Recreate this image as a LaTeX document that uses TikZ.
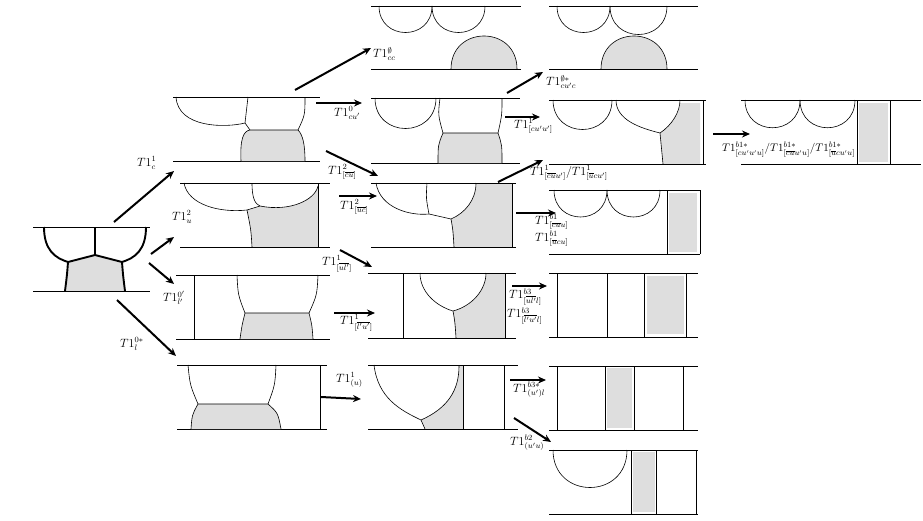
\documentclass[tikz,border=0pt]{standalone}
\usetikzlibrary{arrows.meta}
\begin{document}
\begin{tikzpicture}[x=1pt,y=-1pt,
  ln/.style={line width=0.6pt},
  thk/.style={line width=1.9pt},
  gr/.style={fill=black!13},
  arr/.style={line width=2pt,-{Stealth[length=8pt,width=7pt]}},
  lab/.style={font=\fontsize{11.5}{13}\selectfont,inner sep=0pt,anchor=west}]
\useasboundingbox (0,0) rectangle (923,520);
\newcommand{\cupd}[3]{\draw[ln] (#1,#3) .. controls (#1,{#3+0.667*(#2-#1)}) and (#2,{#3+0.667*(#2-#1)}) .. (#2,#3);}
\newcommand{\capu}[3]{\fill[gr] (#1,#3) .. controls (#1,{#3-0.667*(#2-#1)}) and (#2,{#3-0.667*(#2-#1)}) .. (#2,#3) -- cycle;
 \draw[ln] (#1,#3) .. controls (#1,{#3-0.667*(#2-#1)}) and (#2,{#3-0.667*(#2-#1)}) .. (#2,#3);}
\newcommand{\hl}[3]{\draw[ln] (#1,#3) -- (#2,#3);}
\newcommand{\vl}[3]{\draw[ln] (#1,#2) -- (#1,#3);}
\newcommand{\gbox}[4]{\fill[gr] (#1,#3) rectangle (#2,#4);}

% P0
\fill[gr] (65,291) .. controls (67,275) .. (68,262) .. controls (82,258) .. (95,255) .. controls (108,258) .. (122,262) .. controls (123,275) .. (125,291) -- cycle;
\hl{33}{150}{227} \hl{33}{150}{291}
\draw[thk] (44,227) .. controls (44,250) and (55,258) .. (68,262) .. controls (82,258) .. (95,255) .. controls (108,258) .. (122,262) .. controls (135,258) and (146,250) .. (146,227);
\draw[thk] (95,227) -- (95,255);
\draw[thk] (68,262) .. controls (67,275) .. (65,291);
\draw[thk] (122,262) .. controls (123,275) .. (125,291);

% P1
\hl{173}{320}{97} \hl{173}{320}{161}
\draw[gr,ln] (241,161) .. controls (240,140) and (243,131) .. (250,130) -- (298,130) .. controls (303,135) and (305,145) .. (305,161);
\draw[ln] (176,97) .. controls (178,128) and (225,128) .. (245,123) .. controls (247,126) .. (250,130);
\draw[ln] (248,97) .. controls (246,110) .. (245,123);
\draw[ln] (305,97) .. controls (305,115) .. (298,130);

% P2
\fill[gr] (247,210) -- (260,206) .. controls (290,212) and (315,200) .. (318,186) -- (318,247) -- (252,247) .. controls (251,230) .. (247,210) -- cycle;
\hl{180}{330}{183} \hl{180}{330}{247} \vl{318}{183}{247}
\draw[ln] (184,183) .. controls (188,205) and (220,213) .. (247,210) -- (260,206);
\draw[ln] (252,183) .. controls (252,198) and (255,204) .. (260,206) .. controls (290,212) and (315,200) .. (318,186);
\draw[ln] (247,210) .. controls (251,230) .. (252,247);

% P3
\hl{176}{330}{275} \hl{176}{330}{339} \vl{194}{275}{339}
\draw[gr,ln] (240,339) .. controls (242,325) .. (245,313) -- (309,313) .. controls (312,325) .. (313,339);
\draw[ln] (237,275) .. controls (238,295) .. (245,313);
\draw[ln] (318,275) .. controls (317,295) .. (309,313);

% P4
\hl{177}{327}{365} \hl{177}{327}{429} \vl{320}{365}{429}
\draw[gr,ln] (191,429) .. controls (192,415) .. (198,404) -- (268,404) .. controls (278,413) .. (281,429);
\draw[ln] (188,365) .. controls (190,385) .. (198,404);
\draw[ln] (276,365) .. controls (275,385) .. (268,404);

% Q1
\hl{371}{521}{6} \hl{371}{521}{69}
\cupd{379}{432}{6} \cupd{432}{485}{6}
\capu{451}{517}{69}

% Q2
\hl{371}{520}{98} \hl{371}{520}{163}
\cupd{375}{436}{98}
\draw[gr,ln] (438,163) .. controls (438,145) .. (443,133) -- (498,133) .. controls (502,145) .. (502,163);
\draw[ln] (440,98) .. controls (438,115) .. (443,133);
\draw[ln] (502,98) .. controls (502,115) .. (498,133);

% Q3
\fill[gr] (451,219) .. controls (465,213) and (476,200) .. (476,183) -- (512,183) -- (512,247) -- (454,247) -- cycle;
\hl{371}{516}{183} \hl{371}{516}{247} \vl{512}{183}{247}
\draw[ln] (376,183) .. controls (380,208) and (410,216) .. (429,214) -- (451,219) .. controls (465,213) and (476,200) .. (476,183);
\draw[ln] (427,183) .. controls (426,198) .. (429,214);
\draw[ln] (451,219) .. controls (453,230) .. (454,247);

% Q4
\fill[gr] (453,311) .. controls (472,306) and (486,290) .. (486,273) -- (505,273) -- (505,338) -- (456,338) -- cycle;
\hl{368}{516}{273} \hl{368}{516}{338} \vl{403}{273}{338} \vl{505}{273}{338}
\draw[ln] (420,273) .. controls (420,292) and (436,306) .. (453,311) .. controls (472,306) and (486,290) .. (486,273);
\draw[ln] (453,311) .. controls (455,322) .. (456,338);

% Q5
\fill[gr] (421,420) .. controls (448,408) and (459,390) .. (459,366) -- (463,366) -- (463,429) -- (425,429) -- cycle;
\hl{368}{518}{365} \hl{368}{518}{429} \vl{463}{365}{429} \vl{504}{365}{429}
\draw[ln] (374,365) .. controls (378,398) and (400,410) .. (421,420) .. controls (448,408) and (459,390) .. (459,366);
\draw[ln] (421,420) -- (425,429);

% R1
\hl{549}{698}{6} \hl{549}{698}{69}
\cupd{557}{610}{6} \cupd{610}{667}{6}
\capu{601}{667}{69}

% R2
\fill[gr] (660,133) .. controls (672,125) and (680,112) .. (680,103) -- (700,103) -- (700,164) -- (663,164) -- cycle;
\hl{549}{706}{100} \hl{549}{706}{164} \vl{703}{100}{164}
\cupd{553}{612}{100}
\draw[ln] (616,100) .. controls (616,120) and (640,128) .. (660,133) .. controls (672,125) and (680,112) .. (680,100);
\draw[ln] (660,133) .. controls (662,148) .. (663,164);

% R3
\gbox{669}{697}{193}{252}
\hl{549}{700}{190} \hl{549}{700}{254} \vl{667}{190}{254} \vl{700}{190}{254}
\draw[ln] (554,190) .. controls (554,226) and (607,226) .. (607,190);
\draw[ln] (607,190) .. controls (607,226) and (660,226) .. (660,190);

% R4
\gbox{647}{684}{276}{334}
\hl{549}{698}{273} \hl{549}{698}{337}
\vl{557}{273}{337} \vl{607}{273}{337} \vl{644}{273}{337} \vl{686}{273}{337}

% R5
\gbox{607}{632}{368}{428}
\hl{549}{698}{366} \hl{549}{698}{430}
\vl{557}{366}{430} \vl{605}{366}{430} \vl{634}{366}{430} \vl{683}{366}{430}

% R6
\gbox{633}{655}{452}{512}
\hl{549}{698}{450} \hl{549}{698}{514}
\draw[ln] (553,450) .. controls (553,500) and (627,500) .. (627,450);
\vl{631}{450}{514} \vl{656}{450}{514} \vl{696}{450}{514}

% S1
\gbox{859}{888}{103}{162}
\hl{741}{921}{100} \hl{741}{921}{164}
\draw[ln] (745,100) .. controls (745,137) and (800,137) .. (800,100);
\draw[ln] (800,100) .. controls (800,137) and (855,137) .. (855,100);
\vl{857}{100}{164} \vl{890}{100}{164}

% arrows
\draw[arr] (114,222) -- (174,171);
\draw[arr] (151,254) -- (174,237);
\draw[arr] (149,263) -- (174,284);
\draw[arr] (117,300) -- (176,356);
\draw[arr] (295,90) -- (371,48);
\draw[arr] (316,103) -- (362,103);
\draw[arr] (326,151) -- (378,176);
\draw[arr] (339,196) -- (377,196);
\draw[arr] (340,250) -- (372,267);
\draw[arr] (334,313) -- (375,313);
\draw[arr] (321,397) -- (361,399);
\draw[arr] (507,93) -- (543,72);
\draw[arr] (505,117) -- (540,117);
\draw[arr] (498,182) -- (543,160);
\draw[arr] (516,213) -- (556,213);
\draw[arr] (512,286) -- (547,286);
\draw[arr] (510,380) -- (546,380);
\draw[arr] (514,418) -- (551,442);
\draw[arr] (713,134) -- (750,134);

% labels
\node[lab] (l1) at (137,163) {$T1^1_c$};
\node[lab] (l2) at (172,217) {$T1^2_u$};
\node[lab] (l3) at (163,298) {$T1^{0'}_{l'}$};
\node[lab] (l4) at (120,344) {$T1^{0*}_l$};
\node[lab] (l5) at (373,54) {$T1^{\emptyset}_{cc}$};
\node[lab] (l6) at (334,113) {$T1^0_{cu'}$};
\node[lab] (l7) at (328,172) {$T1^2_{[\overline{cu}]}$};
\node[lab] (l8) at (340,207) {$T1^2_{[\overline{uc}]}$};
\node[lab] (l9) at (322,264) {$T1^1_{[\overline{ul'}]}$};
\node[lab] (l10) at (340,323) {$T1^1_{[\overline{l'u'}]}$};
\node[lab] (l11) at (336,380) {$T1^1_{(u)}$};
\node[lab] (l12) at (546,82) {$T1^{\emptyset *}_{cu'c}$};
\node[lab] (l13) at (514,126) {$T1^1_{[cu'u']}$};
\node[lab] (l14) at (530,173) {$T1^1_{[\overline{cu}u']}/T1^1_{[\overline{u}cu']}$};
\node[lab] (l15) at (535,222) {$T1^{b1}_{[\overline{cu}u]}$};
\node[lab] (l15b) at (535,239) {$T1^{b1}_{[\overline{u}cu]}$};
\node[lab] (l16) at (509,297) {$T1^{b3}_{[\overline{ul'}l]}$};
\node[lab] (l16b) at (507,316) {$T1^{b3}_{[\overline{l'u'}l]}$};
\node[lab] (l17) at (513,390) {$T1^{b3*}_{(u')l}$};
\node[lab] (l18) at (510,443) {$T1^{b2}_{(u'u)}$};
\node[lab,font=\fontsize{11}{13}\selectfont] (l19) at (722,150) {$T1^{b1*}_{[cu'u'u]}/T1^{b1*}_{[\overline{cu}u'u]}/T1^{b1*}_{[\overline{u}cu'u]}$};
\end{tikzpicture}
\end{document}
